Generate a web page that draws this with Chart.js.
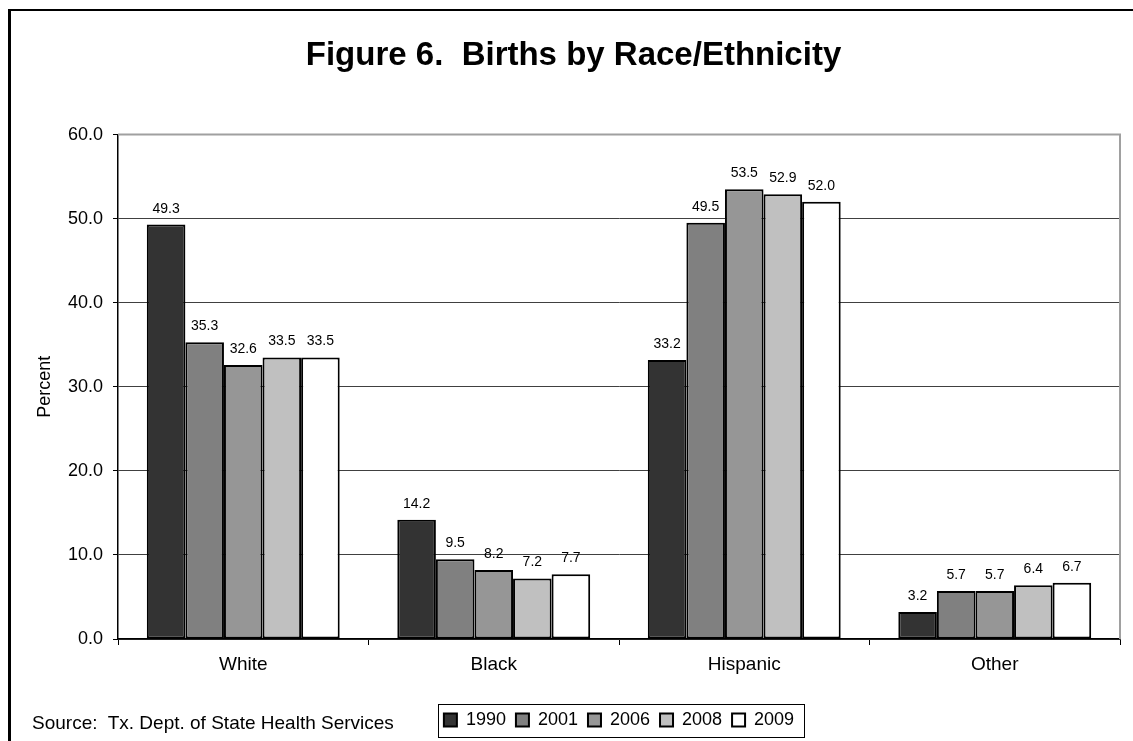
<!DOCTYPE html>
<html>
<head>
<meta charset="utf-8">
<script src="https://cdn.jsdelivr.net/npm/chart.js@4"></script>
<style>
  html, body { margin: 0; padding: 0; background: #fff; overflow: hidden; }
  #wrap { position: relative; width: 1133px; height: 741px; }
  #frame { position: absolute; left: 8px; top: 9px; width: 1200px; height: 800px;
           border-left: 3px solid #000; border-top: 2px solid #000; }
  #source { position: absolute; left: 32px; top: 713px; font: 19px "Liberation Sans", Arial, sans-serif;
            line-height: 19px; color: #000; white-space: pre; }
</style>
</head>
<body>
<div id="wrap">
  <div id="frame"></div>
  <canvas id="births"></canvas>
  <div id="source">Source:  Tx. Dept. of State Health Services</div>
</div>
<script>
// categories and series (percent of births)
const groups = ['White', 'Black', 'Hispanic', 'Other'];
const years = ['1990', '2001', '2006', '2008', '2009'];
const pct1990 = [49.3, 14.2, 33.2, 3.2];
const pct2001 = [35.3, 9.5, 49.5, 5.7];
const pct2006 = [32.6, 8.2, 53.5, 5.7];
const pct2008 = [33.5, 7.2, 52.9, 6.4];
const pct2009 = [33.5, 7.7, 52.0, 6.7];
const yTicks = [0, 10, 20, 30, 40, 50, 60];

const fills = ['#333333', '#808080', '#969696', '#c0c0c0', '#ffffff'];
const series = [pct1990, pct2001, pct2006, pct2008, pct2009];
const FONT = '"Liberation Sans", Arial, sans-serif';

// value labels above each bar
const barLabels = {
    id: 'barLabels',
    afterDatasetsDraw(chart) {
        const ctx = chart.ctx;
        ctx.save();
        ctx.font = '14px ' + FONT;
        ctx.fillStyle = '#000';
        ctx.textAlign = 'center';
        ctx.textBaseline = 'alphabetic';
        chart.data.datasets.forEach((ds, i) => {
            chart.getDatasetMeta(i).data.forEach((bar, j) => {
                ctx.fillText(ds.data[j].toFixed(1), bar.x, bar.y - 12);
            });
        });
        ctx.restore();
    }
};

// grey frame on top/right of the plot, box round the legend
const frames = {
    id: 'frames',
    beforeDatasetsDraw(chart) {
        const a = chart.chartArea;
        const ctx = chart.ctx;
        ctx.save();
        ctx.strokeStyle = '#a0a0a0';
        ctx.lineWidth = 2;
        ctx.beginPath();
        ctx.moveTo(a.left, a.top);
        ctx.lineTo(a.right, a.top);
        ctx.lineTo(a.right, a.bottom);
        ctx.stroke();
        ctx.restore();
    },
    afterDraw(chart) {
        const boxes = chart.legend.legendHitBoxes;
        if (!boxes || !boxes.length) return;
        const first = boxes[0], last = boxes[boxes.length - 1];
        const ctx = chart.ctx;
        ctx.save();
        ctx.strokeStyle = '#000';
        ctx.lineWidth = 1;
        const cy = first.top + first.height / 2;
        ctx.strokeRect(Math.round(first.left - 6) + 0.5, Math.round(cy - 16.5) + 0.5,
                       Math.round(last.left + last.width - first.left + 16), 33);
        ctx.restore();
    }
};

Chart.defaults.color = '#000';
Chart.defaults.font.family = FONT;

new Chart(document.getElementById('births'), {
    type: 'bar',
    data: {
        labels: groups,
        datasets: years.map((y, i) => ({
            label: y,
            data: series[i],
            backgroundColor: fills[i],
            borderColor: '#000',
            borderWidth: 2,
            borderSkipped: false,
            categoryPercentage: 0.77,
            barPercentage: 1.0
        }))
    },
    options: {
        responsive: true,
        maintainAspectRatio: false,
        animation: false,
        layout: { padding: { left: 27, right: 13, top: 10, bottom: 2 } },
        plugins: {
            title: {
                display: true,
                text: 'Figure 6.  Births by Race/Ethnicity',
                font: { size: 33, weight: 'bold' },
                color: '#000',
                padding: { top: 26, bottom: 59 }
            },
            legend: {
                position: 'bottom',
                fullSize: false,
                labels: {
                    font: { size: 18 },
                    boxWidth: 13,
                    boxHeight: 13,
                    padding: 10,
                    color: '#000'
                }
            },
            tooltip: { enabled: false }
        },
        scales: {
            x: {
                grid: { offset: true, drawOnChartArea: false, drawTicks: true, tickLength: 6, color: '#000' },
                border: { color: '#000', width: 1.5 },
                ticks: { font: { size: 19 }, padding: 8, color: '#000' },
                afterFit: s => { s.height = 62; }
            },
            y: {
                min: 0,
                max: 60,
                afterBuildTicks: s => { s.ticks = yTicks.map(v => ({ value: v })); },
                ticks: { font: { size: 18 }, padding: 10, color: '#000', callback: v => Number(v).toFixed(1) },
                grid: {
                    color: c => c.tick.value === 60 ? 'rgba(0,0,0,0)' : '#404040',
                    lineWidth: 1,
                    tickLength: 5,
                    tickColor: '#000'
                },
                border: { color: '#000', width: 1.5 },
                title: { display: true, text: 'Percent', font: { size: 18 }, color: '#000',
                         padding: { top: 7, bottom: 12 } },
                afterFit: s => { s.width = 91; }
            }
        }
    },
    plugins: [barLabels, frames]
});
</script>
</body>
</html>
